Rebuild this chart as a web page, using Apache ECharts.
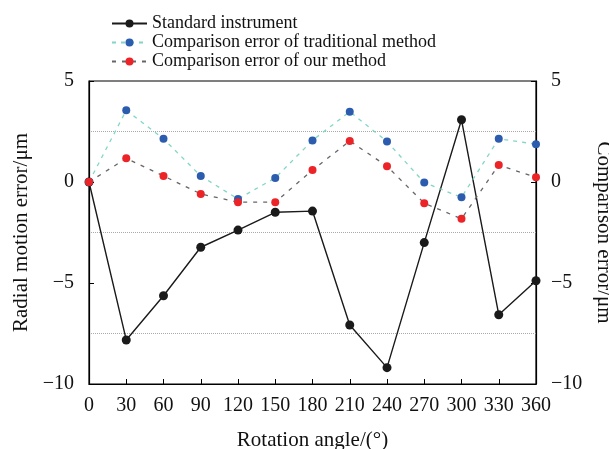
<!DOCTYPE html>
<html><head><meta charset="utf-8">
<script src="https://cdn.jsdelivr.net/npm/echarts@6/dist/echarts.min.js"></script>
<style>html,body{margin:0;padding:0;background:#fff}#c{width:609px;height:449px}</style>
</head><body><div id="c"></div>
<script>
var angles = [0,30,60,90,120,150,180,210,240,270,300,330,360];
var standard = [0,-7.82,-5.63,-3.23,-2.38,-1.50,-1.44,-7.08,-9.19,-3.0,3.08,-6.57,-4.89];
var traditional = [0,3.55,2.14,0.30,-0.84,0.20,2.06,3.48,2.0,-0.03,-0.76,2.14,1.87];
var ours = [0,1.17,0.30,-0.59,-1.0,-1.0,0.59,2.03,0.78,-1.05,-1.82,0.84,0.23];

var F = "'Liberation Serif','Times New Roman',serif";
function pairs(v){ return angles.map(function(a,i){ return [a, v[i]]; }); }

var chart = echarts.init(document.getElementById('c'));
function yAxisDef(pos, extra){
  var o = {
    type:'value', min:-10, max:5, interval:5, position:pos,
    axisLine:{show:true, onZero:false, lineStyle:{color:'#000', width:1.2}},
    axisTick:{show:true, inside:true, length:5, lineStyle:{color:'#000'}},
    axisLabel:{color:'#111', fontSize:20, fontFamily:F, margin:15,
      formatter:function(v){ return v < 0 ? '\u2212' + Math.abs(v) : String(v); }},
    splitLine:{show:false},
    minorTick:{show:false, splitNumber:2},
    nameLocation:'middle',
    nameTextStyle:{color:'#111', fontSize:21, fontFamily:F}
  };
  return Object.assign(o, extra);
}
chart.setOption({
  animation:false,
  legend:{
    orient:'vertical', left:106, top:9, itemWidth:35, itemHeight:10, itemGap:0,
    textStyle:{fontSize:18, fontFamily:F, color:'#111', lineHeight:19},
    data:['Standard instrument','Comparison error of traditional method','Comparison error of our method']
  },
  grid:{left:89, right:73, top:81, bottom:65, containLabel:false, outerBoundsMode:'none',
    show:true, borderColor:'#000', borderWidth:1.2, backgroundColor:'transparent'},
  xAxis:{
    type:'value', min:0, max:360, interval:30,
    axisLine:{onZero:false, lineStyle:{color:'#000', width:1.2}},
    axisTick:{inside:true, length:5, lineStyle:{color:'#000'}},
    axisLabel:{color:'#111', fontSize:20, fontFamily:F, margin:12},
    splitLine:{show:false},
    name:'Rotation angle/(\u00b0)', nameLocation:'middle', nameGap:46,
    nameTextStyle:{color:'#111', fontSize:21, fontFamily:F}
  },
  yAxis:[
    yAxisDef('left', {name:'Radial motion error/\u03bcm', nameGap:48, nameRotate:90,
      minorSplitLine:{show:true, lineStyle:{color:'#aaa', type:'dotted', width:1}}}),
    yAxisDef('right', {name:'Comparison error/\u03bcm', nameGap:50, nameRotate:-90})
  ],
  series:[
    {name:'Standard instrument', type:'line', data:pairs(standard), symbol:'circle', symbolSize:9,
     itemStyle:{color:'#1a1a1a'}, lineStyle:{color:'#1a1a1a', width:1.4}, z:2},
    {name:'Comparison error of traditional method', type:'line', yAxisIndex:1, data:pairs(traditional), symbol:'circle', symbolSize:8,
     itemStyle:{color:'#2b5cae'}, lineStyle:{color:'#82d6c4', width:1.3, type:[4,5]}, z:3},
    {name:'Comparison error of our method', type:'line', yAxisIndex:1, data:pairs(ours), symbol:'circle', symbolSize:8,
     itemStyle:{color:'#ec2327'}, lineStyle:{color:'#666', width:1.3, type:[4,6]}, z:4}
  ]
});
</script></body></html>
